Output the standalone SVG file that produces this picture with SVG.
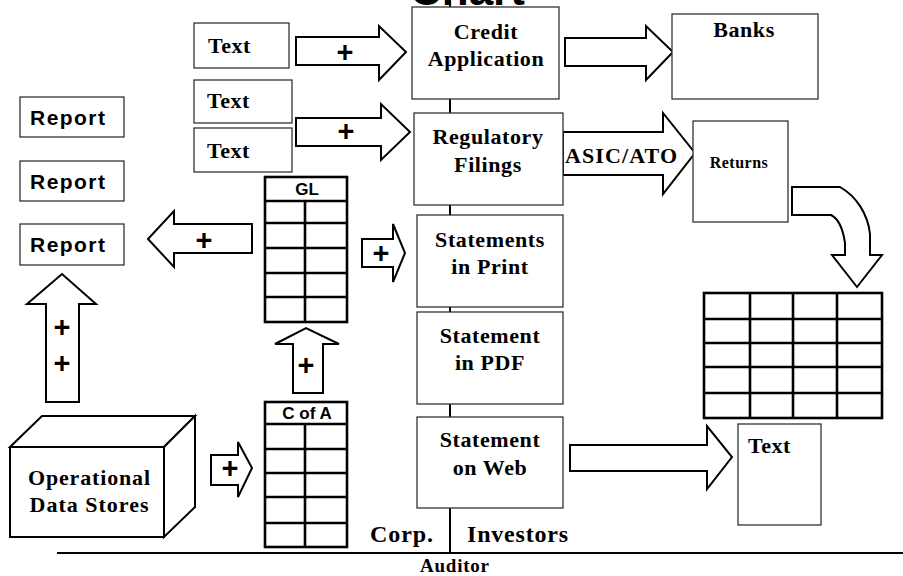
<svg xmlns="http://www.w3.org/2000/svg" width="903" height="576" viewBox="0 0 903 576">
  <style>
    .box { fill: #fff; stroke: #333; stroke-width: 1.3; }
    .arrow { fill: #fff; stroke: #000; stroke-width: 2; stroke-linejoin: miter; }
    .grid { fill: #fff; stroke: #000; stroke-width: 2.6; }
    .gl { fill: none; stroke: #000; stroke-width: 2.6; }
    .line { stroke: #000; stroke-width: 2; fill: none; }
    .serif { font-family: "Liberation Serif", "Times New Roman", serif; font-weight: bold; fill: #000; }
    .sans { font-family: "Liberation Sans", Arial, sans-serif; font-weight: bold; fill: #000; }
    .lbl { font-size: 22px; letter-spacing: 0.6px; text-anchor: middle; }
    .plus { font-family: "Liberation Sans", Arial, sans-serif; font-weight: bold; font-size: 29px; text-anchor: middle; fill: #000; }
  </style>

  <!-- title, mostly above the canvas -->
  <text class="sans" x="410" y="5" font-size="44">Chart</text>

  <!-- spine running down the statement stack, and the Corp./Investors divider -->
  <g id="connectors">
    <line class="line" x1="450" y1="0" x2="450" y2="553"/>
    <line class="line" x1="57" y1="553" x2="903" y2="553"/>

    <polygon class="arrow" points="296,37 379,37 379,26 406,52 379,80 379,65 296,65"/>
    <text class="plus" x="345" y="62">+</text>

    <polygon class="arrow" points="296,118 381,118 381,104 410,132 381,160 381,146 296,146"/>
    <text class="plus" x="346" y="141">+</text>

    <polygon class="arrow" points="565,38 646,38 646,26 673,52 646,80 646,66 565,66"/>

    <polygon class="arrow" points="563,132 663,132 663,113 695,153 663,194 663,175 563,175"/>

    <polygon class="arrow" points="570,445 707,445 707,426 732,457 707,489 707,471 570,471"/>

    <polygon class="arrow" points="252,224 174,224 174,211 148,239 174,267 174,253 252,253"/>
    <text class="plus" x="204" y="250">+</text>

    <polygon class="arrow" points="362,239 393,239 393,224 405,253 393,282 393,267 362,267"/>
    <text class="plus" x="381" y="263">+</text>

    <polygon class="arrow" points="293,393 293,344 275,344 306,328 339,344 323,344 323,393"/>
    <text class="plus" x="306" y="375">+</text>

    <polygon class="arrow" points="46,402 46,304 27,304 62,274 96,304 79,304 79,402"/>
    <text class="plus" x="62" y="337">+</text>
    <text class="plus" x="62" y="373">+</text>

    <polygon class="arrow" points="211,455 238,455 238,442 252,468 238,497 238,485 211,485"/>
    <text class="plus" x="230" y="478">+</text>

    <path class="arrow" d="M792,187 L840,187 C856,196 868,214 870,234 L870,255 L882,255 L857,287 L832,255 L845,255 L845,243 C843,229 839,219 831,215 L792,215 Z"/>
  </g>

  <g id="text-1">
    <rect class="box" x="194" y="23" width="95" height="45"/>
    <text class="serif" x="208" y="53" font-size="22" letter-spacing="0.5">Text</text>
  </g>
  <g id="text-2">
    <rect class="box" x="194" y="80" width="98" height="43"/>
    <text class="serif" x="207" y="108" font-size="22" letter-spacing="0.5">Text</text>
  </g>
  <g id="text-3">
    <rect class="box" x="194" y="128" width="98" height="44"/>
    <text class="serif" x="207" y="158" font-size="22" letter-spacing="0.5">Text</text>
  </g>

  <g id="report-1">
    <rect class="box" x="20" y="97" width="104" height="40"/>
    <text class="sans" x="30" y="125" font-size="21" textLength="75">Report</text>
  </g>
  <g id="report-2">
    <rect class="box" x="20" y="161" width="104" height="40"/>
    <text class="sans" x="30" y="189" font-size="21" textLength="75">Report</text>
  </g>
  <g id="report-3">
    <rect class="box" x="20" y="224" width="104" height="41"/>
    <text class="sans" x="30" y="252" font-size="21" textLength="75">Report</text>
  </g>

  <g id="credit-application">
    <rect class="box" x="412" y="7" width="147" height="92"/>
    <text class="serif lbl" x="486" y="39">Credit</text>
    <text class="serif lbl" x="486" y="66">Application</text>
  </g>
  <g id="regulatory-filings">
    <rect class="box" x="414" y="113" width="149" height="92"/>
    <text class="serif lbl" x="488" y="144">Regulatory</text>
    <text class="serif lbl" x="488" y="172">Filings</text>
  </g>
  <g id="statements-print">
    <rect class="box" x="417" y="215" width="146" height="92"/>
    <text class="serif lbl" x="490" y="247">Statements</text>
    <text class="serif lbl" x="490" y="274">in Print</text>
  </g>
  <g id="statement-pdf">
    <rect class="box" x="417" y="312" width="146" height="92"/>
    <text class="serif lbl" x="490" y="343">Statement</text>
    <text class="serif lbl" x="490" y="370">in PDF</text>
  </g>
  <g id="statement-web">
    <rect class="box" x="417" y="417" width="146" height="91"/>
    <text class="serif lbl" x="490" y="447">Statement</text>
    <text class="serif lbl" x="490" y="475">on Web</text>
  </g>

  <g id="banks">
    <rect class="box" x="672" y="14" width="146" height="85"/>
    <text class="serif lbl" x="744" y="37">Banks</text>
  </g>
  <g id="asic-label">
    <text class="serif" x="621" y="163" font-size="22" text-anchor="middle" textLength="112">ASIC/ATO</text>
  </g>
  <g id="returns">
    <rect class="box" x="693" y="121" width="95" height="101"/>
    <text class="serif" x="739" y="168" font-size="16" text-anchor="middle" letter-spacing="0.5">Returns</text>
  </g>

  <g id="returns-table">
    <rect class="grid" x="704" y="293" width="178" height="125"/>
    <path class="gl" d="M704,319 H882 M704,343 H882 M704,367 H882 M704,393 H882 M750,293 V418 M793,293 V418 M837,293 V418"/>
  </g>

  <g id="text-right">
    <rect class="box" x="738" y="424" width="83" height="101"/>
    <text class="serif" x="748" y="453" font-size="22" letter-spacing="0.5">Text</text>
  </g>

  <g id="gl-table">
    <rect class="grid" x="265" y="177" width="82" height="145"/>
    <path class="gl" d="M265,201 H347 M265,223 H347 M265,248 H347 M265,273 H347 M265,297 H347 M305,201 V322"/>
    <text class="sans" x="307" y="195" font-size="17" text-anchor="middle">GL</text>
  </g>

  <g id="cofa-table">
    <rect class="grid" x="265" y="402" width="82" height="145"/>
    <path class="gl" d="M265,424 H347 M265,449 H347 M265,473 H347 M265,497 H347 M265,523 H347 M305,424 V547"/>
    <text class="sans" x="307" y="419" font-size="17" text-anchor="middle">C of A</text>
  </g>

  <g id="operational-data-stores">
    <polygon class="arrow" points="10,447 42,416 195,416 164,447"/>
    <polygon class="arrow" points="164,447 195,416 195,507 164,537"/>
    <rect class="arrow" x="10" y="447" width="154" height="90"/>
    <text class="serif" x="89" y="485" font-size="22" text-anchor="middle" textLength="122">Operational</text>
    <text class="serif" x="89" y="512" font-size="22" text-anchor="middle" textLength="119">Data Stores</text>
  </g>

  <g id="labels">
    <text class="serif" x="370" y="542" font-size="24" textLength="63">Corp.</text>
    <text class="serif" x="467" y="542" font-size="24" textLength="101">Investors</text>
    <text class="serif" x="420" y="572" font-size="19" textLength="69">Auditor</text>
  </g>
</svg>
